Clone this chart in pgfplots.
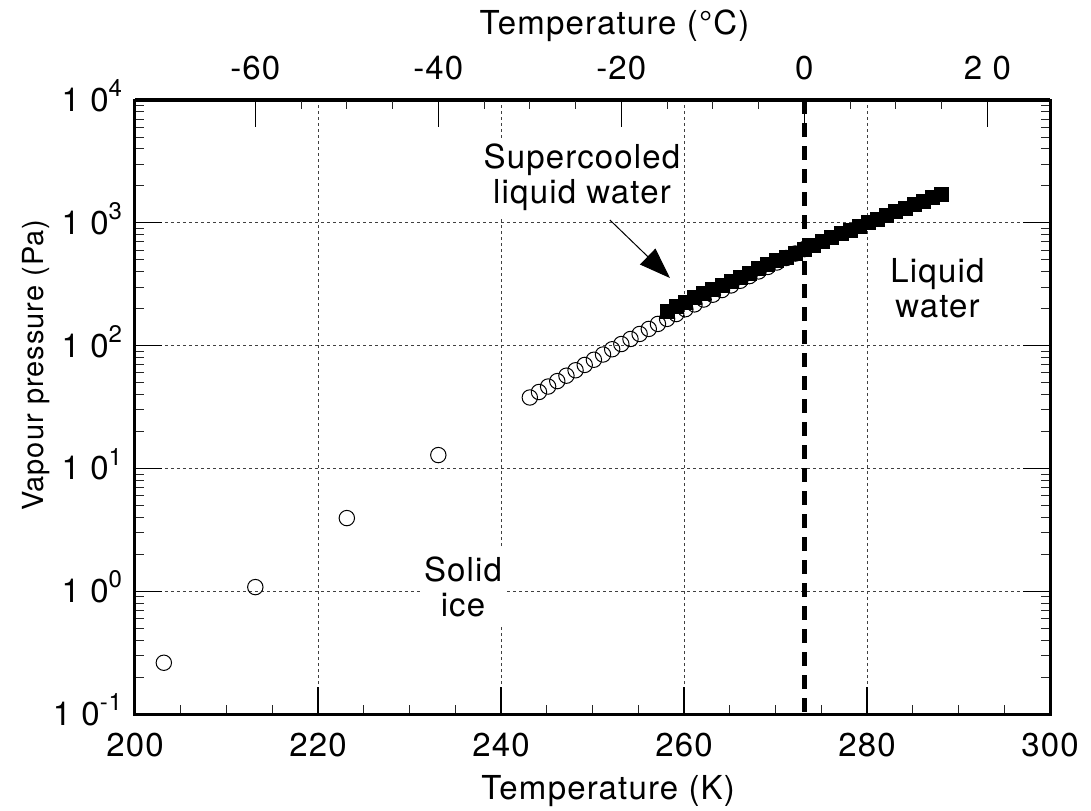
\documentclass[border=0pt]{standalone}
\usepackage{fontspec}
\setmainfont[LetterSpace=3.5]{TeX Gyre Heros}
\usepackage{pgfplots}
\pgfplotsset{compat=1.18}
\usetikzlibrary{arrows.meta}

% decade label: 1 0 with a raised exponent that does not change the box height
\newcommand{\dec}[1]{1 0\smash{\raisebox{0.45em}{\fontsize{12}{12}\selectfont #1}}}
\newcommand{\lbl}{\fontsize{16.5}{17.5}\selectfont}

% ice (sublimation) vapour pressure, T in K, p in Pa
\pgfplotstableread{
T       p
203.15  0.2615
213.15  1.080
223.15  3.940
233.15  12.84
243.15  37.8
244.15  41.9
245.15  46.4
246.15  51.4
247.15  56.9
248.15  63.0
249.15  69.6
250.15  76.7
251.15  84.6
252.15  93.4
253.15  103.0
254.15  113.2
255.15  124.4
256.15  136.7
257.15  150.2
258.15  165.0
259.15  180.7
260.15  197.9
261.15  216.6
262.15  237.2
263.15  259.7
264.15  283.3
265.15  309.1
266.15  337.3
267.15  368.1
268.15  401.7
269.15  436.7
270.15  474.9
271.15  516.5
272.15  561.8
273.15  611.0
}\icetable

% liquid water (supercooled below 273.15 K)
\pgfplotstableread{
T       p
258.15  191.5
259.15  208.1
260.15  225.9
261.15  244.9
262.15  265.0
263.15  286.5
264.15  309.6
265.15  334.5
266.15  361.3
267.15  390.2
268.15  421.7
269.15  454.6
270.15  489.7
271.15  527.4
272.15  567.7
273.15  611.2
274.15  657.1
275.15  706.0
276.15  758.0
277.15  813.5
278.15  872.5
279.15  935.3
280.15  1002.1
281.15  1073.0
282.15  1148.1
283.15  1228.1
284.15  1312.9
285.15  1402.7
286.15  1497.9
287.15  1598.8
288.15  1705.6
}\watertable

\begin{document}
\begin{tikzpicture}
\begin{axis}[
  at={(0,0)}, anchor=south west,
  scale only axis, width=457.5pt, height=307pt,
  xmin=200, xmax=300,
  ymode=log, ymin=0.1, ymax=10000,
  xtick={200,220,240,260,280,300},
  xticklabels={200,220,240,260,280,300},
  minor x tick num=3,
  ytick={0.1,1,10,100,1000,10000},
  yticklabels={\dec{-1},\dec{0},\dec{1},\dec{2},\dec{3},\dec{4}},
  xtick pos=bottom, ytick pos=both, yticklabel pos=left,
  tick align=inside,
  major tick length=13.5pt, minor tick length=4.75pt,
  every major tick/.append style={black, line width=0.6pt},
  every minor tick/.append style={black!85, line width=0.45pt},
  axis line style={line width=1.5pt},
  xmajorgrids, ymajorgrids,
  major grid style={black!75, line width=0.4pt, dash pattern=on 1.5pt off 1.5pt},
  tick label style={font=\lbl},
  xticklabel style={anchor=north, inner sep=0pt, yshift=-9.5pt},
  yticklabel style={anchor=east, inner sep=0pt, xshift=-6.3pt},
  xlabel={Temperature (K)},
  xlabel style={at={(axis description cs:0.517,-0.140)}, anchor=base, inner sep=0pt, font=\lbl},
  ylabel={Vapour pressure (Pa)},
  ylabel style={at={(axis description cs:-0.1005,0.568)}, anchor=base, inner sep=0pt, font=\fontsize{14.5}{17}\selectfont},
]
  % freezing point
  \addplot[black, line width=2.2pt, dash pattern=on 7pt off 4.5pt] coordinates {(273.15,10000) (273.15,0.1)};
  % solid ice
  \addplot[only marks, mark=o, mark size=3.85pt, mark options={line width=0.5pt, black}] table[x=T, y=p] {\icetable};
  % liquid water
  \addplot[only marks, mark=square*, mark size=3.5pt, mark options={black, fill=black}] table[x=T, y=p] {\watertable};

  \node[fill=white, align=center, inner xsep=2pt, inner ysep=3pt, font=\lbl] at (axis cs:248.85,2360) {Supercooled\\liquid water};
  \node[fill=white, align=center, inner xsep=1pt, inner ysep=5pt, font=\lbl] at (axis cs:235.85,1.08) {Solid\\ice};
  \node[fill=white, align=center, inner sep=2pt, font=\lbl] at (axis cs:287.7,292) {Liquid\\water};
  \draw[black, line width=0.5pt, -{Triangle[length=15.5pt, width=11pt]}] (axis cs:251.9,1054) -- (axis cs:258.47,355);
\end{axis}

% Celsius scale along the top edge
\begin{axis}[
  at={(0,0)}, anchor=south west,
  scale only axis, width=457.5pt, height=307pt,
  xmin=-73.15, xmax=26.85, ymin=0, ymax=1,
  axis x line*=top, axis y line=none,
  xtick={-60,-40,-20,0,20},
  xticklabels={-60,-40,-20,0,2 0},
  minor x tick num=3,
  tick align=inside,
  major tick length=13.5pt, minor tick length=4.75pt,
  every major tick/.append style={black, line width=0.6pt},
  every minor tick/.append style={black!85, line width=0.45pt},
  axis line style={line width=1.5pt},
  tick label style={font=\lbl},
  xticklabel style={anchor=south, inner sep=0pt, yshift=10pt},
  xlabel={Temperature (°C)},
  xlabel style={at={(axis description cs:0.524,1.106)}, anchor=base, inner sep=0pt, font=\lbl},
]
\end{axis}

\pgfresetboundingbox
\useasboundingbox (-67.5pt,-48pt) rectangle (478pt,357pt);
\end{tikzpicture}
\end{document}
